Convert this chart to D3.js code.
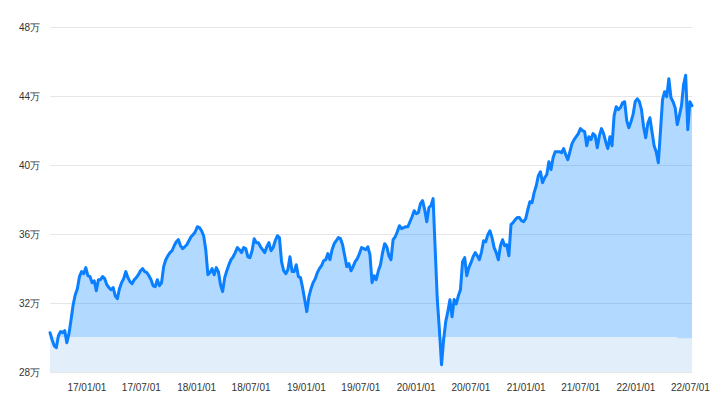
<!DOCTYPE html>
<html>
<head>
<meta charset="utf-8">
<script src="https://cdn.jsdelivr.net/npm/d3@7"></script>
<style>
  html, body { margin: 0; padding: 0; background: #fff; }
  svg { display: block; font-family: "DejaVu Sans", "Noto Sans CJK SC", sans-serif; }
</style>
</head>
<body>
<div id="chart"></div>
<script>
// weekly values (万), first week 2016-09-02, last week 2022-07-08
const START_DATE = "2016-09-02";
const END_DATE = "2022-07-08";
const VALUES = [
  30.28, 29.87, 29.52, 29.41, 30.10, 30.34, 30.28, 30.40, 29.70, 30.22,
  31.03, 31.90, 32.48, 32.83, 33.53, 33.82, 33.70, 34.05, 33.58, 33.53,
  33.18, 33.29, 32.71, 33.35, 33.35, 33.53, 33.41, 33.06, 32.89, 32.77,
  32.89, 32.42, 32.25, 32.83, 33.18, 33.41, 33.82, 33.47, 33.24, 33.12,
  33.35, 33.47, 33.64, 33.87, 33.99, 33.82, 33.76, 33.58, 33.35, 33.00,
  32.95, 33.35, 33.00, 33.18, 34.11, 34.51, 34.74, 34.92, 35.03, 35.32,
  35.55, 35.67, 35.32, 35.15, 35.26, 35.38, 35.61, 35.84, 35.96, 36.13,
  36.42, 36.37, 36.19, 35.90, 35.09, 33.64, 33.76, 33.99, 33.64, 34.05,
  33.82, 33.06, 32.66, 33.47, 33.87, 34.22, 34.51, 34.68, 34.92, 35.21,
  35.09, 34.92, 35.21, 35.15, 34.68, 34.63, 35.03, 35.73, 35.50, 35.50,
  35.26, 35.09, 34.92, 35.26, 35.50, 35.03, 35.21, 35.61, 35.90, 35.79,
  34.40, 33.87, 33.70, 33.93, 34.68, 33.82, 33.82, 34.22, 33.53, 33.47,
  32.89, 32.19, 31.50, 32.37, 32.83, 33.18, 33.41, 33.76, 33.99, 34.16,
  34.45, 34.51, 34.86, 34.51, 35.09, 35.44, 35.61, 35.79, 35.73, 35.38,
  34.74, 34.11, 34.28, 33.87, 34.11, 34.40, 34.57, 34.86, 35.21, 35.15,
  35.09, 35.26, 34.80, 33.18, 33.58, 33.35, 33.87, 34.22, 34.92, 35.44,
  35.26, 34.74, 34.51, 35.67, 35.84, 36.13, 36.48, 36.31, 36.37, 36.42,
  36.42, 36.71, 37.00, 37.35, 37.18, 37.24, 37.76, 37.93, 37.41, 36.71,
  37.53, 37.64, 38.05, 35.09, 32.19, 30.45, 28.42, 29.87, 30.92, 31.50,
  32.19, 31.20, 32.20, 31.95, 32.42, 32.77, 34.40, 34.63, 33.58, 34.05,
  34.34, 34.68, 34.92, 34.74, 34.51, 34.97, 35.61, 35.55, 35.96, 36.19,
  35.79, 35.21, 34.92, 34.51, 35.32, 35.67, 35.32, 35.38, 34.74, 36.54,
  36.66, 36.83, 36.95, 36.95, 36.77, 36.71, 36.89, 37.41, 37.87, 37.82,
  38.40, 38.80, 39.38, 39.61, 38.97, 39.26, 39.44, 40.19, 39.73, 40.42,
  40.77, 40.77, 40.77, 40.71, 40.95, 40.60, 40.31, 40.77, 41.24, 41.47,
  41.64, 41.82, 42.11, 41.99, 41.93, 41.12, 41.64, 41.47, 41.82, 41.70,
  41.00, 41.70, 42.11, 41.82, 41.35, 40.95, 41.64, 41.12, 42.86, 43.38,
  43.21, 43.32, 43.61, 43.67, 42.57, 42.16, 42.51, 42.92, 43.67, 43.84,
  43.67, 43.21, 42.22, 41.58, 42.40, 42.74, 41.93, 41.12, 40.77, 40.13,
  41.93, 43.79, 44.25, 43.96, 45.00, 43.90, 43.67, 43.32, 42.34, 42.86,
  43.44, 44.66, 45.20, 42.05, 43.67, 43.44
];

// principal (万), step series
const BASE_DATES = ["2016-09-02", "2022-05-20", "2022-07-08"];
const BASE_VALUES = [30.03, 29.95, 29.95];

const Y_TICKS = [28, 32, 36, 40, 44, 48];
const X_TICKS = [
  "2017-01-01", "2017-07-01", "2018-01-01", "2018-07-01", "2019-01-01", "2019-07-01",
  "2020-01-01", "2020-07-01", "2021-01-01", "2021-07-01", "2022-01-01", "2022-07-01"
];

const parse = d3.timeParse("%Y-%m-%d");

const weeks = d3.timeFriday.range(parse(START_DATE), d3.timeDay.offset(parse(END_DATE), 1));
const series = VALUES.slice(0, weeks.length).map((v, i) => ({ date: weeks[i], value: v }));
const base = BASE_DATES.map((d, i) => ({ date: parse(d), value: BASE_VALUES[i] }));

const width = 719;
const height = 399;
const margin = { top: 27, right: 27, bottom: 27, left: 50 };

const svg = d3.select("#chart")
  .append("svg")
  .attr("width", width)
  .attr("height", height);

const x = d3.scaleTime()
  .domain([parse(START_DATE), parse(END_DATE)])
  .range([margin.left, width - margin.right]);

const y = d3.scaleLinear()
  .domain([28, 48])
  .range([height - margin.bottom, margin.top]);

// grid
svg.append("g")
  .selectAll("line")
  .data(Y_TICKS)
  .join("line")
  .attr("x1", margin.left)
  .attr("x2", width - margin.right)
  .attr("y1", (d) => Math.round(y(d)) + 0.5)
  .attr("y2", (d) => Math.round(y(d)) + 0.5)
  .attr("stroke", "#e6e6e6")
  .attr("stroke-width", 1);

// value area
const area = d3.area()
  .x((d) => x(d.date))
  .y0(y(28))
  .y1((d) => y(d.value));

svg.append("path")
  .datum(series)
  .attr("fill", "#0080ff")
  .attr("fill-opacity", 0.3)
  .attr("d", area);

// principal band
const baseArea = d3.area()
  .curve(d3.curveStepAfter)
  .x((d) => x(d.date))
  .y0(y(28))
  .y1((d) => y(d.value));

svg.append("path")
  .datum(base)
  .attr("fill", "#e2eefa")
  .attr("d", baseArea);

// line
const line = d3.line()
  .x((d) => x(d.date))
  .y((d) => y(d.value));

svg.append("path")
  .datum(series)
  .attr("fill", "none")
  .attr("stroke", "#0a7fff")
  .attr("stroke-width", 3)
  .attr("stroke-linejoin", "round")
  .attr("stroke-linecap", "round")
  .attr("d", line);

// axes
const yAxis = d3.axisLeft(y)
  .tickValues(Y_TICKS)
  .tickSize(0)
  .tickPadding(10)
  .tickFormat((d) => d + "万");

svg.append("g")
  .attr("transform", `translate(${margin.left},0)`)
  .call(yAxis)
  .call((g) => g.select(".domain").remove())
  .call((g) => g.selectAll("text").attr("fill", "#333").style("font-size", "10px"));

const xAxis = d3.axisBottom(x)
  .tickValues(X_TICKS.map(parse))
  .tickSize(0)
  .tickPadding(12)
  .tickFormat(d3.timeFormat("%y/%m/%d"));

svg.append("g")
  .attr("transform", `translate(0,${height - margin.bottom})`)
  .call(xAxis)
  .call((g) => g.select(".domain").remove())
  .call((g) => g.selectAll("text").attr("fill", "#333").style("font-size", "10px"));
</script>
</body>
</html>
